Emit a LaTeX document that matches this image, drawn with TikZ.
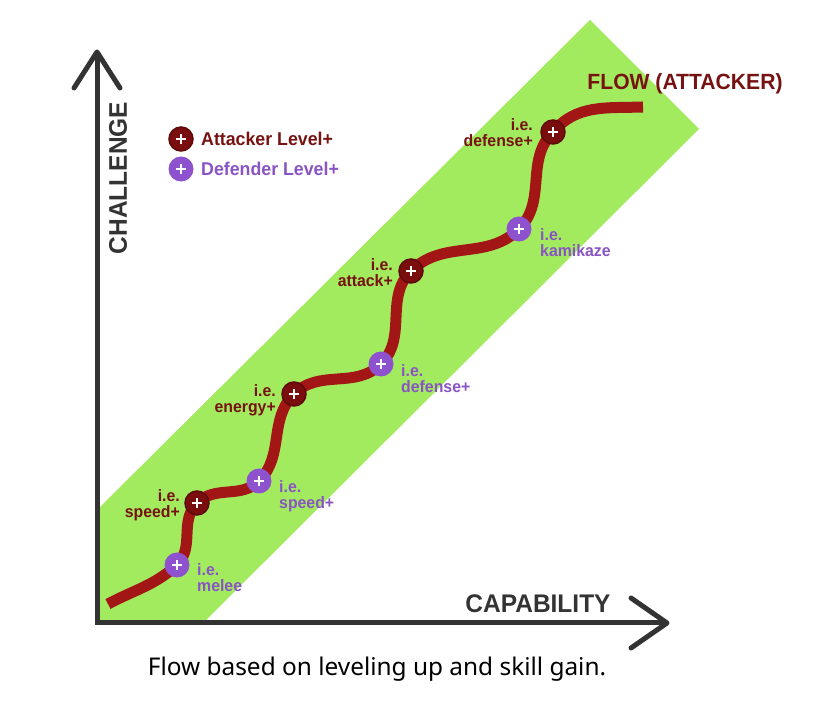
\documentclass[tikz,border=0pt]{standalone}
\usepackage{fontspec}
\setmainfont{Noto Sans}
\newfontfamily\condb{Liberation Sans}[FakeStretch=0.96]
\definecolor{axisgray}{RGB}{51,51,51}
\definecolor{bandgreen}{RGB}{163,235,94}
\definecolor{flowred}{RGB}{163,22,22}
\definecolor{attackdark}{RGB}{122,14,14}
\definecolor{attackdeep}{RGB}{95,10,10}
\definecolor{attacktext}{RGB}{118,18,18}
\definecolor{defpurple}{RGB}{142,82,206}
\definecolor{deftext}{RGB}{137,84,196}
\begin{document}
\begin{tikzpicture}[x=1pt,y=1pt,
  axis/.style={draw=axisgray, line width=5pt, line join=miter},
  tipline/.style={draw=axisgray, line width=5pt, line cap=round, line join=round},
  flow/.style={draw=flowred, line width=11pt},
  plusmark/.style={draw=white, line width=2.6pt},
  anode/.style={circle, fill=attackdark, draw=attackdeep, line width=1.5pt, minimum size=24pt, inner sep=0pt},
  dnode/.style={circle, fill=defpurple, minimum size=25pt, inner sep=0pt},
  alab/.style={text=attacktext, font=\condb\bfseries\fontsize{16.5}{16}\selectfont, align=right, anchor=east, inner sep=0pt},
  dlab/.style={text=deftext, font=\condb\bfseries\fontsize{16.5}{16}\selectfont, align=left, anchor=west, inner sep=0pt},
  axlab/.style={text=axisgray, font=\condb\bfseries\fontsize{25.5}{26}\selectfont, inner sep=0pt},
  legtext/.style={font=\condb\bfseries\fontsize{18.5}{18}\selectfont, anchor=base west, inner sep=0pt}
]
\useasboundingbox (0,0) rectangle (835,720);
\fill[white] (0,0) rectangle (835,720);
% band
\fill[bandgreen] (97,210) -- (590,700) -- (699,591) -- (203,97) -- (97,97) -- cycle;
% axes
\coordinate (o) at (97,97);
\coordinate (ytip) at (97,668);
\coordinate (xtip) at (667,97);
\coordinate (yend) at (97,665);
\coordinate (xend) at (664,97);
\draw[axis] (yend) -- (o) -- (xend);
\coordinate (yl) at (74,632);
\coordinate (yr) at (120,632);
\coordinate (xu) at (631,122);
\coordinate (xd) at (631,72);
\draw[tipline] (yl) -- (ytip) -- (yr);
\draw[tipline] (xu) -- (xtip) -- (xd);
\node[axlab, rotate=90] (chal) at (118,542) {CHALLENGE};
\node[axlab, anchor=base] (cap) at (538,107) {CAPABILITY};
% flow curve
\coordinate (s) at (108,116);
\coordinate (p1) at (177,155);
\coordinate (p2) at (197,217);
\coordinate (p3) at (259,239);
\coordinate (p4) at (294,326);
\coordinate (p5) at (381,356);
\coordinate (p6) at (411,449);
\coordinate (p7) at (519,491);
\coordinate (p8) at (553,588);
\coordinate (e) at (643,613);
\draw[flow] (s) to[out=28,in=222] (p1) to[out=45,in=225] (p2) to[out=45,in=225] (p3)
  to[out=45,in=225] (p4) to[out=45,in=225] (p5) to[out=45,in=225] (p6)
  to[out=45,in=225] (p7) to[out=45,in=225] (p8) to[out=50,in=182] (e);
\node[anchor=base, text=attacktext, font=\condb\bfseries\fontsize{22}{22}\selectfont, inner sep=0pt] (flowt) at (685,630) {FLOW (ATTACKER)};
% level nodes
\node[dnode] (d1) at (p1) {};
\node[anode] (a1) at (p2) {};
\node[dnode] (d2) at (p3) {};
\node[anode] (a2) at (p4) {};
\node[dnode] (d3) at (p5) {};
\node[anode] (a3) at (p6) {};
\node[dnode] (d4) at (p7) {};
\node[anode] (a4) at (p8) {};
\node[anode] (lga) at (181,581) {};
\node[dnode] (lgd) at (181,551) {};
\foreach \n in {d1,a1,d2,a2,d3,a3,d4,a4,lga,lgd}{
  \draw[plusmark] ([xshift=-5]\n.center) -- ([xshift=5]\n.center);
  \draw[plusmark] ([yshift=-5]\n.center) -- ([yshift=5]\n.center);
}
% labels
\node[dlab] (ld1) at ([xshift=20,yshift=-13]d1.center) {i.e.\\melee};
\node[alab] (la1) at ([xshift=-17,yshift=-2]a1.center) {i.e.\\speed+};
\node[dlab] (ld2) at ([xshift=20,yshift=-15]d2.center) {i.e.\\speed+};
\node[alab] (la2) at ([xshift=-18,yshift=-6]a2.center) {i.e.\\energy+};
\node[dlab] (ld3) at ([xshift=20,yshift=-15]d3.center) {i.e.\\defense+};
\node[alab] (la3) at ([xshift=-18,yshift=-2]a3.center) {i.e.\\attack+};
\node[dlab] (ld4) at ([xshift=21,yshift=-14]d4.center) {i.e.\\kamikaze};
\node[alab] (la4) at ([xshift=-20,yshift=-1]a4.center) {i.e.\\defense+};
% legend
\node[legtext, text=attacktext] (lta) at (201,574) {Attacker Level+};
\node[legtext, text=deftext] (ltd) at (201,544) {Defender Level+};
% caption
\node[anchor=base, font=\fontsize{24.4}{24}\selectfont, inner sep=0pt] (capt) at (377,44) {Flow based on leveling up and skill gain.};
\end{tikzpicture}
\end{document}
